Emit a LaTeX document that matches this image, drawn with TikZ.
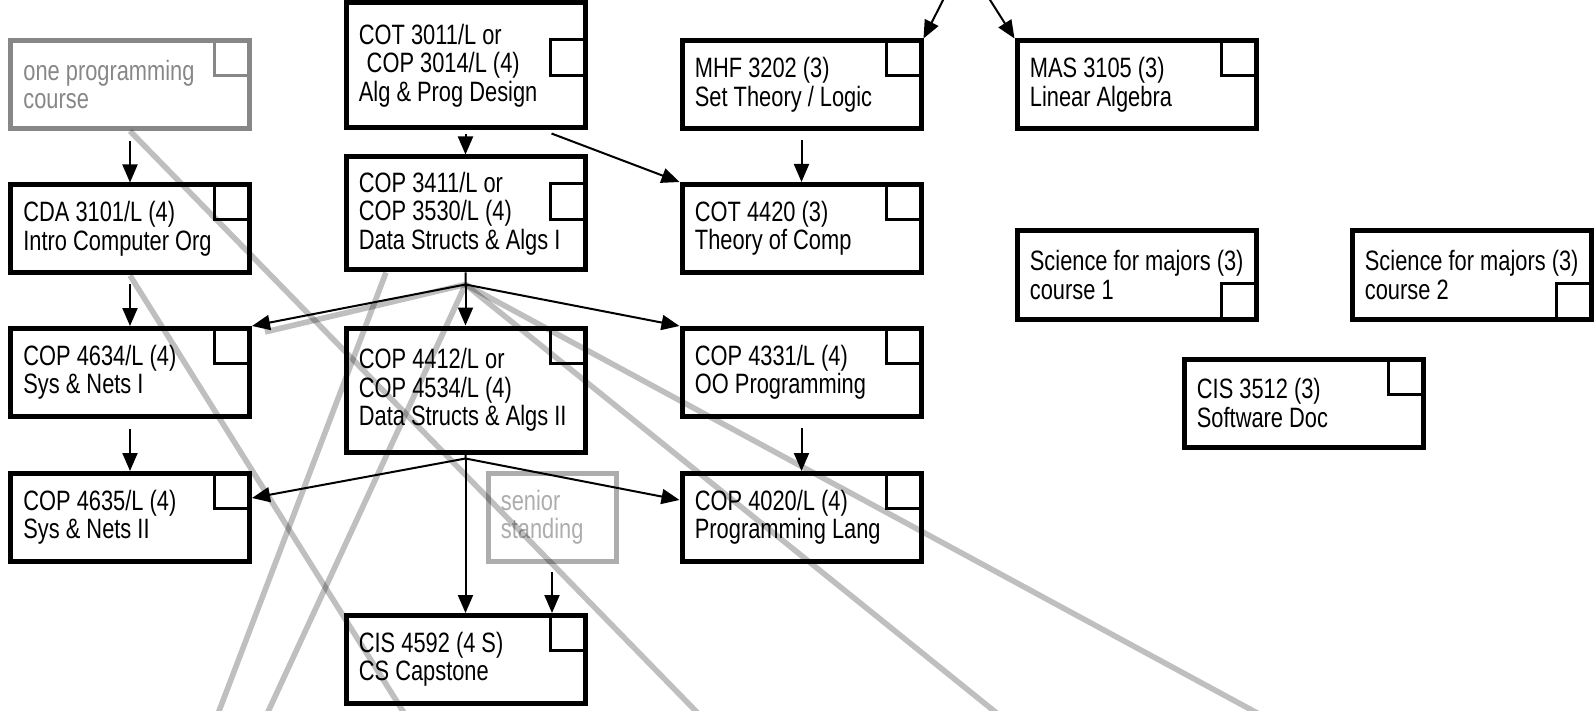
\documentclass[tikz,border=0pt]{standalone}
\usepackage{fontspec}
\setmainfont{Liberation Sans}[FakeStretch=0.78]
\usepackage{xcolor}
\usetikzlibrary{arrows.meta}
\definecolor{dimgrey}{gray}{0.53}
\definecolor{palegrey}{gray}{0.68}

\begin{document}
\begin{tikzpicture}[
        x=0.5pt, y=-0.5pt,
        font=\fontsize{14}{14.25}\selectfont,
        box/.style={draw, line width=2.5pt, minimum width=119.5pt, minimum height=44pt, inner sep=0pt},
        chk/.style={draw, line width=1.5pt, minimum size=18pt, inner sep=0pt, anchor=north east},
        txt/.style={anchor=west, align=left, inner sep=0pt},
        arr/.style={-{Triangle[length=9pt,width=7.5pt]}, line width=1pt},
        ghost/.style={line width=2.8pt, draw=black, opacity=0.25}
    ]
    \useasboundingbox (0,0) rectangle (1595,711);
    \clip (0,0) rectangle (1595,711);

    % course boxes
    \node[box, draw=dimgrey] (oneprog) at (130,84.5) {};
    \node[box, minimum height=62.5pt] (cot3011) at (465.5,65.5) {};
    \node[box] (mhf) at (801.5,85) {};
    \node[box] (mas) at (1136.5,85) {};
    \node[box] (cda) at (130,229) {};
    \node[box, minimum height=56.5pt] (cop3411) at (465.5,213.5) {};
    \node[box] (cot4420) at (801.5,228.5) {};
    \node[box] (scia) at (1136.5,275) {};
    \node[box] (scib) at (1471.5,275) {};
    \node[box] (cop4634) at (130,372.5) {};
    \node[box, minimum height=62pt] (cop4412) at (465.5,390) {};
    \node[box] (cop4331) at (801.5,372.5) {};
    \node[box] (cis3512) at (1303.5,403) {};
    \node[box] (cop4635) at (130,517.5) {};
    \node[box, draw=palegrey, minimum width=64pt] (senior) at (552,517.5) {};
    \node[box] (cop4020) at (801.5,517.5) {};
    \node[box] (cis4592) at (465.5,659.5) {};

    % check squares
    \node[chk, draw=dimgrey] (oneprogchk) at (oneprog.north east) {};
    \node[chk] (cot3011chk) at ([yshift=-19pt]cot3011.north east) {};
    \node[chk] (mhfchk) at (mhf.north east) {};
    \node[chk] (maschk) at (mas.north east) {};
    \node[chk] (cdachk) at (cda.north east) {};
    \node[chk] (cop3411chk) at ([yshift=-14pt]cop3411.north east) {};
    \node[chk] (cot4420chk) at (cot4420.north east) {};
    \node[chk, anchor=south east] (sciachk) at (scia.south east) {};
    \node[chk, anchor=south east] (scibchk) at (scib.south east) {};
    \node[chk] (cop4634chk) at (cop4634.north east) {};
    \node[chk] (cop4412chk) at (cop4412.north east) {};
    \node[chk] (cop4331chk) at (cop4331.north east) {};
    \node[chk] (cis3512chk) at (cis3512.north east) {};
    \node[chk] (cop4635chk) at (cop4635.north east) {};
    \node[chk] (cop4020chk) at (cop4020.north east) {};
    \node[chk] (cis4592chk) at (cis4592.north east) {};

    % course texts
    \node[txt, text=dimgrey] (oneprogtxt) at ([xshift=7.5pt]oneprog.west) {one programming\\course};
    \node[txt] (cot3011txt) at ([xshift=7.5pt]cot3011.west) {COT 3011/L or\\\hspace{.28em}COP 3014/L (4)\\Alg \& Prog Design};
    \node[txt] (mhftxt) at ([xshift=7.5pt]mhf.west) {MHF 3202 (3)\\Set Theory / Logic};
    \node[txt] (mastxt) at ([xshift=7.5pt]mas.west) {MAS 3105 (3)\\Linear Algebra};
    \node[txt] (cdatxt) at ([xshift=7.5pt]cda.west) {CDA 3101/L (4)\\Intro Computer Org};
    \node[txt] (cop3411txt) at ([xshift=7.5pt]cop3411.west) {COP 3411/L or\\COP 3530/L (4)\\Data Structs \& Algs I};
    \node[txt] (cot4420txt) at ([xshift=7.5pt]cot4420.west) {COT 4420 (3)\\Theory of Comp};
    \node[txt] (sciatxt) at ([xshift=7.5pt]scia.west) {Science for majors (3)\\course 1};
    \node[txt] (scibtxt) at ([xshift=7.5pt]scib.west) {Science for majors (3)\\course 2};
    \node[txt] (cop4634txt) at ([xshift=7.5pt]cop4634.west) {COP 4634/L (4)\\Sys \& Nets I};
    \node[txt] (cop4412txt) at ([xshift=7.5pt]cop4412.west) {COP 4412/L or\\COP 4534/L (4)\\Data Structs \& Algs II};
    \node[txt] (cop4331txt) at ([xshift=7.5pt]cop4331.west) {COP 4331/L (4)\\OO Programming};
    \node[txt] (cis3512txt) at ([xshift=7.5pt]cis3512.west) {CIS 3512 (3)\\Software Doc};
    \node[txt] (cop4635txt) at ([xshift=7.5pt]cop4635.west) {COP 4635/L (4)\\Sys \& Nets II};
    \node[txt, text=palegrey] (seniortxt) at ([xshift=7.5pt]senior.west) {senior\\standing};
    \node[txt] (cop4020txt) at ([xshift=7.5pt]cop4020.west) {COP 4020/L (4)\\Programming Lang};
    \node[txt] (cis4592txt) at ([xshift=7.5pt]cis4592.west) {CIS 4592 (4 S)\\CS Capstone};

    % junction points
    \coordinate (mathsrc) at (964,-41);
    \coordinate (hubA) at ([yshift=-6pt]cop3411.south);
    \coordinate (hubB) at ([yshift=-2pt]cop4412.south);

    % prerequisite arrows
    \draw[arr] ([yshift=-5pt]oneprog.south) -- (cda.north);
    \draw[arr] ([yshift=-2pt]cot3011.south) -- (cop3411.north);
    \draw[arr] ([shift={(43pt,-1.5pt)}]cot3011.south) -- (cot4420.north west);
    \draw[arr] ([yshift=-4.5pt]mhf.south) -- (cot4420.north);
    \draw[arr] (mathsrc) -- (mhf.north east);
    \draw[arr] (mathsrc) -- (mas.north west);
    \draw[arr] ([yshift=-4.5pt]cda.south) -- (cop4634.north);
    \draw[arr] ([yshift=-5pt]cop4634.south) -- (cop4635.north);
    \draw[arr] (cop3411.south) -- (hubA) -- (cop4634.north east);
    \draw[arr] (hubA) -- (cop4412.north);
    \draw[arr] (hubA) -- (cop4331.north west);
    \draw[arr] ([yshift=-4.5pt]cop4331.south) -- (cop4020.north);
    \draw[arr] (cop4412.south) -- (hubB) -- ([yshift=9.75pt]cop4635.east);
    \draw[arr] (hubB) -- ([yshift=8.75pt]cop4020.west);
    \draw[arr] (hubB) -- (cis4592.north);
    \draw[arr] ([yshift=-4pt]senior.south) -- (senior.south |- cis4592.north);

    % grey links leaving the page
    \coordinate (outa) at (724,740);
    \coordinate (outb) at (421,740);
    \coordinate (outc) at (208,740);
    \coordinate (outd) at (255,740);
    \coordinate (oute) at (1030,740);
    \coordinate (outf) at (1307,740);
    \draw[ghost] (oneprog.south) -- (outa);
    \draw[ghost] (cda.south) -- (outb);
    \draw[ghost] ([xshift=-39.75pt]cop3411.south) -- (outc);
    \draw[ghost] (hubA) -- (outd);
    \draw[ghost] (hubA) -- ([shift={(6.5pt,-3pt)}]cop4634.north east);
    \draw[ghost] (hubA) -- (oute);
    \draw[ghost] (hubA) -- (outf);
\end{tikzpicture}
\end{document}
